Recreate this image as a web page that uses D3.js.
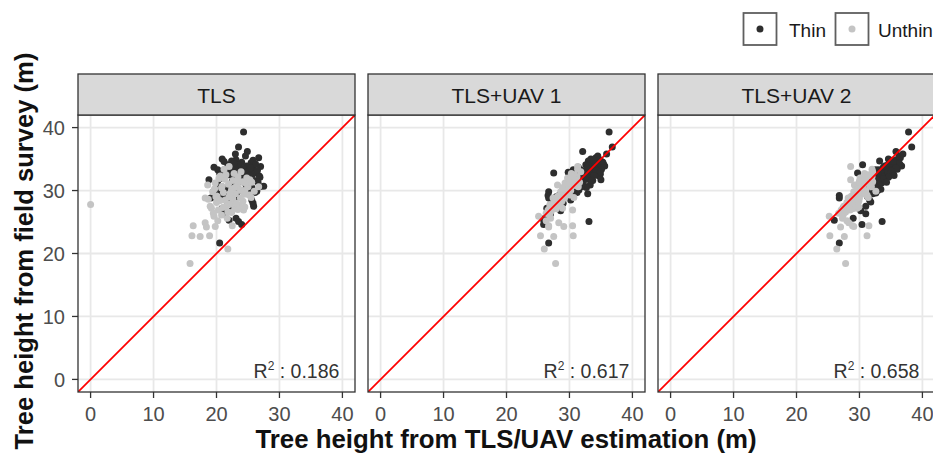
<!DOCTYPE html>
<html><head><meta charset="utf-8">
<script src="https://cdn.jsdelivr.net/npm/d3@7/dist/d3.min.js"></script>
<style>body{margin:0;background:#fff;overflow:hidden} text{font-family:"Liberation Sans",Arial,sans-serif}</style>
</head><body><svg id="c" width="933" height="453"></svg>
<script>
const panels = ["TLS", "TLS+UAV 1", "TLS+UAV 2"];
const r2Values = ["0.186", "0.617", "0.658"];
const ticks = [0, 10, 20, 30, 40];
const groups = ["Thin", "Unthin"];
const xTitle = "Tree height from TLS/UAV estimation (m)";
const yTitle = "Tree height from field survey (m)";

// Thinned stand: field height and estimates per method
const thinField = [39.3,36.9,36.2,35.2,35.0,34.9,34.7,34.5,34.4,34.1,34.0,33.9,33.8,33.7,33.6,33.5,33.4,33.3,33.2,33.1,33.0,32.9,32.8,32.8,32.7,32.6,32.5,32.4,32.3,32.2,32.1,32.0,31.9,31.8,31.7,31.6,31.5,31.4,31.2,31.0,30.9,30.7,30.6,30.5,30.3,30.1,29.9,29.8,29.6,29.5,29.3,29.0,28.8,28.5,28.2,28.0,27.5,27.2,26.8,26.3,25.6,25.1,24.6,25.3,21.65,29.2,28.4,
  35.5,34.8,34.3,34.2,33.9,33.6,33.2,33.0,32.7,32.4,32.1,31.9,31.6,31.3,31.0,30.6,30.2,29.7,35.8,34.6,33.3,32.9,30.0];
const thinTLS   = [24.3,23.5,24.9,26.7,20.9,23.1,22.4,24.0,25.5,21.8,23.6,24.8,27.0,19.6,22.9,24.3,25.9,21.3,23.4,25.1,22.1,24.6,26.2,20.5,23.0,25.7,21.9,24.1,26.8,22.7,25.0,23.8,21.0,24.5,18.8,26.0,22.5,23.9,25.3,20.2,24.7,27.5,22.3,25.6,21.4,23.7,26.4,19.5,22.8,24.9,20.6,23.3,19.1,25.6,21.7,25.8,25.9,20.9,22.4,21.2,23.1,23.5,24.0,22.0,20.5,21.2,22.0,
  24.6,25.8,22.8,26.2,21.9,25.4,26.5,23.9,22.4,25.3,26.9,23.3,24.2,26.6,22.9,26.9,25.0,26.1,23.0,21.2,20.2,21.6,20.6];
const thinUAV1  = [36.3,36.8,32.1,34.2,33.4,34.8,33.0,35.3,34.0,32.6,33.6,35.6,34.6,31.4,32.9,33.9,35.1,31.8,33.2,34.4,32.5,33.8,31.0,27.5,33.1,34.9,32.0,33.5,34.7,31.6,33.0,32.4,30.8,32.9,35.0,33.7,31.2,32.2,31.9,29.6,33.3,32.4,30.3,32.7,29.4,31.5,29.9,26.7,30.6,32.9,28.4,27.9,26.7,30.2,27.2,29.0,28.7,26.4,28.6,27.0,26.1,33.1,25.9,25.9,26.7,26.6,27.6,
  34.5,33.8,34.9,35.4,33.0,32.8,34.2,34.9,32.3,33.9,32.8,31.4,33.5,31.6,31.1,31.9,30.8,31.2,35.9,35.1,30.6,29.8,29.1];
const thinUAV2  = [37.8,38.3,35.8,36.5,34.6,35.9,33.2,36.2,35.0,30.5,34.4,36.7,35.5,33.8,34.9,35.6,36.0,33.1,34.2,35.2,33.6,34.8,29.7,32.5,33.9,35.4,33.0,34.3,34.7,32.4,33.8,33.4,32.0,34.1,33.0,34.0,31.8,33.2,33.5,31.3,32.8,31.8,31.8,33.0,30.7,32.3,31.2,29.4,32.6,32.1,29.2,31.3,26.8,31.6,31.8,28.8,31.0,27.4,30.2,31.0,29.0,33.6,30.4,26.0,26.8,26.8,28.3,
  36.3,35.2,34.8,36.4,34.0,35.8,35.0,34.5,34.9,35.5,34.6,33.7,32.9,34.3,33.1,32.5,33.4,32.3,36.9,35.4,32.6,32.3,32.9];

// Unthinned stand
const unthinField = [27.8,18.4,20.7,22.8,22.7,22.8,24.4,24.2,24.9,24.3,24.4,26.9,27.2,25.9,25.6,30.6,28.8,33.8,32.5,32.2,31.9,31.6,31.4,31.2,31.0,30.8,30.6,30.4,30.2,30.0,29.8,29.7,29.5,29.3,29.1,29.0,28.8,28.6,28.5,28.3,28.1,27.9,27.7,27.5,27.3,27.1,26.9,26.6,26.4,26.1,33.0,32.7,31.7,30.9,29.9,28.9,33.4,32.0,27.4,25.2,
  31.8,31.5,31.1,30.7,30.5,30.1,29.6,29.4,29.0,28.7,28.4,28.0,27.6,27.0,26.5,32.3,31.3,30.3];
const unthinTLS   = [0.0,15.8,21.8,16.1,17.4,18.9,16.3,18.4,18.2,19.8,22.5,24.3,19.2,19.6,21.7,26.7,18.2,22.0,21.5,23.4,20.4,22.6,24.1,19.8,21.9,23.3,25.0,20.8,22.4,24.5,19.4,21.1,23.0,25.2,20.1,22.0,23.8,18.7,21.4,24.2,20.0,22.2,23.6,19.0,21.0,22.9,20.3,21.8,19.5,20.8,23.9,22.8,25.3,18.6,26.0,25.5,21.2,24.8,24.5,20.2,
  21.3,23.3,24.7,20.9,22.9,23.8,22.2,24.4,19.9,22.6,20.6,23.1,21.6,23.4,22.4,20.6,25.6,19.7];
const unthinUAV1  = [26.9,27.8,26.0,25.4,27.5,30.6,30.5,26.7,28.3,29.1,26.7,30.5,28.9,25.1,27.0,29.8,27.4,31.3,30.8,31.2,30.0,30.4,31.0,29.3,29.9,30.7,31.4,28.9,29.6,30.2,28.6,29.0,29.5,30.0,28.2,28.8,29.2,27.7,28.3,28.8,27.6,28.0,28.5,27.1,27.5,27.9,26.6,27.0,26.3,26.8,31.8,30.3,30.9,28.1,29.4,30.7,31.3,29.7,26.9,26.3,
  29.9,30.1,30.0,29.4,29.0,29.8,28.7,29.3,28.1,28.6,28.0,27.9,27.4,27.3,26.9,30.5,31.6,28.9];
const unthinUAV2  = [28.0,27.8,26.4,25.3,27.6,31.2,31.5,27.0,28.3,29.1,28.9,28.5,29.6,25.2,27.3,30.5,28.2,28.6,31.4,32.0,30.2,31.0,32.1,29.9,30.6,31.6,31.9,29.8,30.4,31.0,29.1,29.7,30.3,31.2,28.7,29.4,30.0,28.4,29.0,29.9,28.0,28.6,29.4,27.5,28.1,28.9,27.1,27.8,26.7,27.4,32.1,30.8,28.6,29.2,32.6,31.4,32.0,30.1,29.9,28.0,
  30.9,30.0,31.5,30.1,29.6,30.6,29.8,30.9,28.9,29.2,29.6,28.8,27.9,28.4,27.6,31.2,30.8,29.7];

const estimates = {
  Thin:   [thinTLS, thinUAV1, thinUAV2],
  Unthin: [unthinTLS, unthinUAV1, unthinUAV2]
};
const fields = { Thin: thinField, Unthin: unthinField };
const colors = { Thin: "#2E2E2E", Unthin: "#C4C4C4" };

const svg = d3.select("#c");
const P = 277, panelTop = 115, stripH = 41;
const panelX = [78, 368, 658];
const x = d3.scaleLinear().domain([-2, 42]).range([0, P]);
const y = d3.scaleLinear().domain([-2, 42]).range([P, 0]);

svg.append("defs").selectAll("clipPath").data(panels).join("clipPath")
  .attr("id", (d, i) => "clip" + i)
  .append("rect").attr("width", P).attr("height", P);

panels.forEach((name, i) => {
  const g = svg.append("g").attr("transform", `translate(${panelX[i]},${panelTop})`);
  g.append("rect").attr("width", P).attr("height", P).attr("fill", "#fff");
  // grid
  g.selectAll(".gx").data(ticks).join("line")
    .attr("x1", d => x(d)).attr("x2", d => x(d)).attr("y1", 0).attr("y2", P)
    .attr("stroke", "#E8E8E8").attr("stroke-width", 1.8);
  g.selectAll(".gy").data(ticks).join("line")
    .attr("y1", d => y(d)).attr("y2", d => y(d)).attr("x1", 0).attr("x2", P)
    .attr("stroke", "#E8E8E8").attr("stroke-width", 1.8);
  const inner = g.append("g").attr("clip-path", `url(#clip${i})`);
  groups.forEach(grp => {
    const pts = fields[grp].map((f, k) => ({ fx: estimates[grp][i][k], fy: f }));
    inner.append("g").selectAll("circle").data(pts).join("circle")
      .attr("cx", d => x(d.fx)).attr("cy", d => y(d.fy)).attr("r", 3.5)
      .attr("fill", colors[grp]);
  });
  inner.append("line")
    .attr("x1", x(-2)).attr("y1", y(-2)).attr("x2", x(42)).attr("y2", y(42))
    .attr("stroke", "#FF0000").attr("stroke-width", 1.8);
  // R2 label
  const t = g.append("text").attr("x", x(40) - 3).attr("y", y(0) - 1)
    .attr("text-anchor", "end").attr("font-size", 19.5).attr("fill", "#333");
  t.append("tspan").text("R");
  t.append("tspan").attr("font-size", 12).attr("dy", -8).text("2");
  t.append("tspan").attr("dy", 8).text(" : " + r2Values[i]);
  g.append("rect").attr("width", P).attr("height", P).attr("fill", "none")
    .attr("stroke", "#333").attr("stroke-width", 1.3);
  // strip
  g.append("rect").attr("y", -stripH).attr("width", P).attr("height", stripH)
    .attr("fill", "#D9D9D9").attr("stroke", "#333").attr("stroke-width", 1.3);
  g.append("text").attr("x", P / 2).attr("y", -stripH + 29.3).attr("text-anchor", "middle")
    .attr("font-size", 21).attr("fill", "#1A1A1A").text(name);
  // x axis
  const xa = g.append("g").attr("transform", `translate(0,${P})`);
  xa.selectAll("line").data(ticks).join("line")
    .attr("x1", d => x(d)).attr("x2", d => x(d)).attr("y1", 0).attr("y2", 6)
    .attr("stroke", "#333").attr("stroke-width", 1.3);
  xa.selectAll("text").data(ticks).join("text")
    .attr("x", d => x(d)).attr("y", 29).attr("text-anchor", "middle")
    .attr("font-size", 20).attr("fill", "#4D4D4D").text(d => d);
  if (i === 0) {
    const ya = g.append("g");
    ya.selectAll("line").data(ticks).join("line")
      .attr("x1", -6).attr("x2", 0).attr("y1", d => y(d)).attr("y2", d => y(d))
      .attr("stroke", "#333").attr("stroke-width", 1.3);
    ya.selectAll("text").data(ticks).join("text")
      .attr("x", -13).attr("y", d => y(d)).attr("dy", "0.36em").attr("text-anchor", "end")
      .attr("font-size", 20).attr("fill", "#4D4D4D").text(d => d);
  }
});

// axis titles
svg.append("text").attr("x", 506).attr("y", 448).attr("text-anchor", "middle")
  .attr("font-size", 25.8).attr("font-weight", "bold").attr("fill", "#111").text(xTitle);
svg.append("text").attr("transform", "translate(33,251) rotate(-90)").attr("text-anchor", "middle")
  .attr("font-size", 25.6).attr("font-weight", "bold").attr("fill", "#111").text(yTitle);

// legend
const legX = [743.5, 835.5], legTextX = [789, 878];
groups.forEach((grp, k) => {
  svg.append("rect").attr("x", legX[k]).attr("y", 13).attr("width", 33).attr("height", 32)
    .attr("fill", "#fff").attr("stroke", "#5F5F5F").attr("stroke-width", 1.8);
  svg.append("circle").attr("cx", legX[k] + 16.5).attr("cy", 29).attr("r", 3.5).attr("fill", colors[grp]);
  svg.append("text").attr("x", legTextX[k]).attr("y", 37).attr("font-size", 19)
    .attr("fill", "#1A1A1A").text(grp);
});
</script></body></html>
